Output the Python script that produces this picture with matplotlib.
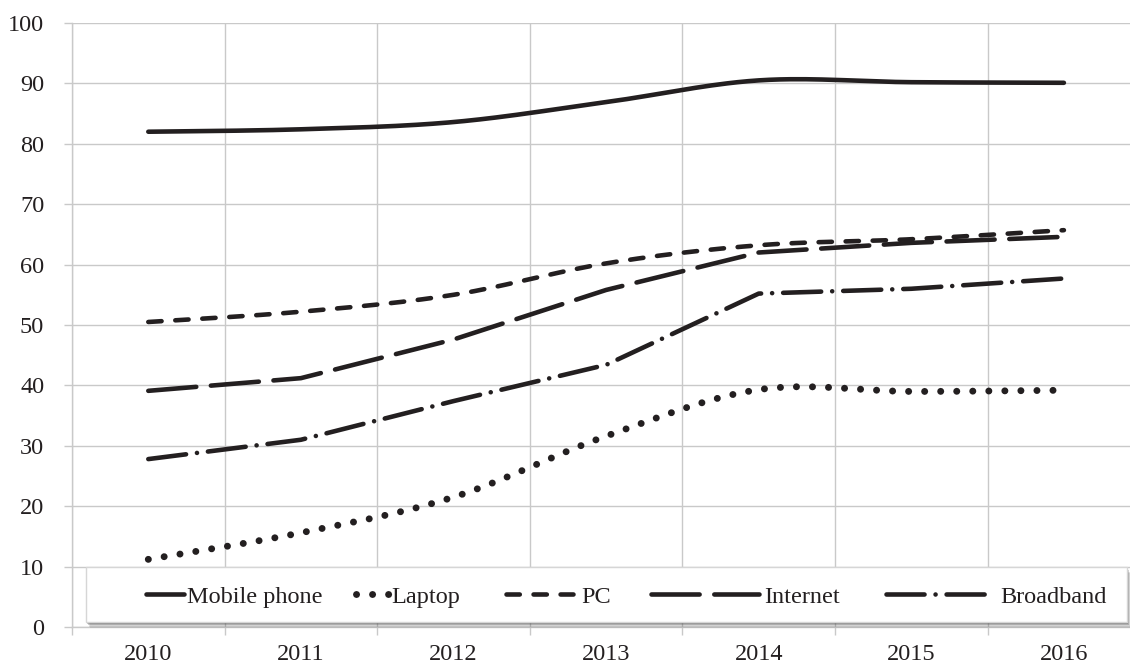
import numpy as np
import matplotlib
matplotlib.use('Agg')
import matplotlib.pyplot as plt
import matplotlib.transforms as mtransforms
from matplotlib.patches import Rectangle
from matplotlib.ticker import FixedLocator, NullFormatter, FixedFormatter

years = ['2010', '2011', '2012', '2013', '2014', '2015', '2016']
mobile_phone = [82.0, 82.4, 83.6, 86.9, 90.5, 90.2, 90.1]
laptop = [11.2, 15.6, 21.5, 31.6, 39.3, 39.0, 39.2]
pc = [50.5, 52.2, 55.0, 60.2, 63.2, 64.2, 65.7]
internet = [39.1, 41.2, 47.6, 55.8, 62.0, 63.6, 64.6]
broadband = [27.8, 31.0, 37.4, 43.4, 55.2, 56.0, 57.7]


def smooth(y, n=30):
    # excel style smoothed line (catmull-rom between the points)
    y = np.asarray(y, dtype=float)
    x = np.arange(len(y), dtype=float)
    xs, ys = [], []
    for i in range(len(y) - 1):
        p0 = np.array([x[max(i - 1, 0)], y[max(i - 1, 0)]])
        p1 = np.array([x[i], y[i]])
        p2 = np.array([x[i + 1], y[i + 1]])
        p3 = np.array([x[min(i + 2, len(y) - 1)], y[min(i + 2, len(y) - 1)]])
        c1 = p1 + (p2 - p0) / 6
        c2 = p2 - (p3 - p1) / 6
        t = np.linspace(0, 1, n)[:, None]
        pts = (1 - t) ** 3 * p1 + 3 * (1 - t) ** 2 * t * c1 + 3 * (1 - t) * t ** 2 * c2 + t ** 3 * p2
        if i > 0:
            pts = pts[1:]
        xs.extend(pts[:, 0])
        ys.extend(pts[:, 1])
    return xs, ys


plt.rcParams['font.family'] = ['Liberation Serif', 'DejaVu Serif']
ink = '#231f20'
grid = '#c9c9c9'
fs = 17.5

fig = plt.figure(figsize=(11.3, 6.67), dpi=100)
ax = fig.add_axes([72 / 1130, 40 / 667, 1058 / 1130, 604 / 667])

x = np.arange(len(years))
lw = 3.3

xs, ys = smooth(mobile_phone)
ax.plot(xs, ys, color=ink, lw=lw, solid_capstyle='round', label='Mobile phone')
xs, ys = smooth(laptop)
ax.plot(xs, ys, color=ink, lw=5.0, linestyle=(0, (0.01, 2.3)), dash_capstyle='round', label='Laptop')
xs, ys = smooth(pc)
ax.plot(xs, ys, color=ink, lw=lw, linestyle=(0, (2.9, 3.0)), dash_capstyle='round', label='PC')
ax.plot(x, internet, color=ink, lw=lw, linestyle=(0, (10.5, 3.2)), dash_capstyle='round', label='Internet')
ax.plot(x, broadband, color=ink, lw=lw, linestyle=(0, (8.3, 2.4, 0.01, 2.4)), dash_capstyle='round', label='Broadband')

ax.set_xlim(-0.5, -0.5 + 1058 / 152.6)
ax.set_ylim(0, 100)

ax.xaxis.set_major_locator(FixedLocator(np.arange(-0.5, 7, 1)))
ax.xaxis.set_major_formatter(NullFormatter())
ax.xaxis.set_minor_locator(FixedLocator(x))
ax.xaxis.set_minor_formatter(FixedFormatter(years))
ax.tick_params(axis='x', which='major', length=6, width=1, color=grid, direction='out')
ax.tick_params(axis='x', which='minor', length=0, pad=12, labelsize=fs, labelcolor=ink)

ax.set_yticks(np.arange(0, 101, 10))
ax.tick_params(axis='y', length=6, width=1, color=grid, pad=14, labelsize=fs, labelcolor=ink)

ax.grid(True, which='major', color=grid, lw=1)
ax.set_axisbelow(True)
for s in ['top', 'right']:
    ax.spines[s].set_visible(False)
for s in ['left', 'bottom']:
    ax.spines[s].set_color(grid)
    ax.spines[s].set_linewidth(1)

# legend box with a soft shadow underneath
bx, by, bw, bh = 14 / 1058, 5 / 604, 1041 / 1058, 55 / 604
for dx, dy, a in [(4, -6, 0.10), (3, -4.5, 0.15), (2, -3, 0.25), (1, -1.5, 0.3)]:
    off = mtransforms.ScaledTranslation(dx / 100, dy / 100, fig.dpi_scale_trans)
    ax.add_patch(Rectangle((bx, by), bw, bh, transform=ax.transAxes + off,
                           facecolor='#444444', edgecolor='none', alpha=a,
                           zorder=4.4, clip_on=False))
ax.add_patch(Rectangle((bx, by), bw, bh, transform=ax.transAxes, facecolor='white',
                       edgecolor='#d6d6d6', lw=1, zorder=4.5, clip_on=False))

# one legend per entry so each sample can have its own length, like the original
handles, labels = ax.get_legend_handles_labels()
entry_left = [146, 356, 506, 651, 886]
entry_len = [1.55, 1.35, 2.75, 4.45, 4.2]
entry_pad = [0.15, 0.1, 0.35, 0.2, 0.5]
for h, lab, px, hl, tp in zip(handles, labels, entry_left, entry_len, entry_pad):
    leg = ax.legend([h], [lab], loc='center left', bbox_to_anchor=((px - 72) / 1058, 0.05),
                    fontsize=fs, frameon=False, handlelength=hl, handletextpad=tp,
                    borderpad=0, borderaxespad=0)
    leg.set_zorder(5)
    for t in leg.get_texts():
        t.set_color(ink)
    ax.add_artist(leg)
ax.legend_ = None

fig.savefig('out.png', dpi=100)
